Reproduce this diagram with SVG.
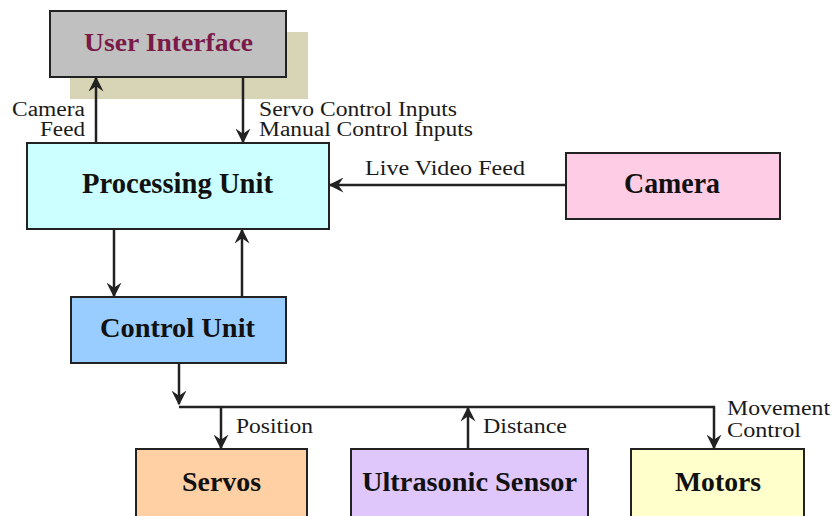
<svg xmlns="http://www.w3.org/2000/svg" width="832" height="516" viewBox="0 0 832 516">
<style>
.box{stroke:#222;stroke-width:2}
.t{font-family:"Liberation Serif","Times New Roman",serif;font-weight:bold;font-size:28px;fill:#111}
.l{font-family:"Liberation Serif","Times New Roman",serif;font-size:20px;fill:#1a1a1a}
.c{stroke:#222;stroke-width:2.5;fill:none}
</style>
<defs>
<marker id="a" viewBox="0 0 10 10" refX="9" refY="5" markerWidth="6" markerHeight="6" orient="auto" markerUnits="strokeWidth">
<path d="M0,0 L10,5 L0,10 L3.5,5 z" fill="#222"/>
</marker>
</defs>
<rect width="832" height="516" fill="#fff"/>
<g id="ui">
<rect x="70" y="32" width="238" height="67" fill="#d8d4b6"/>
<rect class="box" x="50" y="11" width="236" height="66" fill="#c0c0c0"/>
<text class="t" x="84" y="51" textLength="169" lengthAdjust="spacingAndGlyphs" style="fill:#7a1a48;font-size:26px">User Interface</text>
</g>
<g id="processing">
<rect class="box" x="27" y="143" width="302" height="86" fill="#ccffff"/>
<text class="t" x="82" y="193" textLength="191" lengthAdjust="spacingAndGlyphs" style="font-size:29px">Processing Unit</text>
</g>
<g id="camera">
<rect class="box" x="566" y="153" width="214" height="66" fill="#ffcce6"/>
<text class="t" x="624" y="193" textLength="96" lengthAdjust="spacingAndGlyphs" style="font-size:29px">Camera</text>
</g>
<g id="control">
<rect class="box" x="71" y="297" width="215" height="66" fill="#99ccff"/>
<text class="t" x="100" y="337" textLength="155" lengthAdjust="spacingAndGlyphs">Control Unit</text>
</g>
<g id="servos">
<rect class="box" x="136" y="449" width="171" height="70" fill="#ffd0a4"/>
<text class="t" x="182" y="491" textLength="79" lengthAdjust="spacingAndGlyphs">Servos</text>
</g>
<g id="ultrasonic">
<rect class="box" x="351" y="449" width="237" height="70" fill="#dfc6fb"/>
<text class="t" x="362" y="491" textLength="215" lengthAdjust="spacingAndGlyphs">Ultrasonic Sensor</text>
</g>
<g id="motors">
<rect class="box" x="631" y="449" width="173" height="70" fill="#ffffcc"/>
<text class="t" x="675" y="491" textLength="86" lengthAdjust="spacingAndGlyphs">Motors</text>
</g>
<g id="connectors">
<path class="c" d="M96,143 V78" marker-end="url(#a)"/>
<path class="c" d="M243,77 V142" marker-end="url(#a)"/>
<path class="c" d="M566,185 H330" marker-end="url(#a)"/>
<path class="c" d="M114,229 V296" marker-end="url(#a)"/>
<path class="c" d="M242,297 V230" marker-end="url(#a)"/>
<path class="c" d="M179,363 V404" marker-end="url(#a)"/>
<path class="c" d="M179,407 H714 V448" marker-end="url(#a)"/>
<path class="c" d="M221,407 V448" marker-end="url(#a)"/>
<path class="c" d="M468,449 V408" marker-end="url(#a)"/>
<text class="l" x="12" y="116" textLength="73" lengthAdjust="spacingAndGlyphs">Camera</text>
<text class="l" x="40" y="136" textLength="45" lengthAdjust="spacingAndGlyphs">Feed</text>
<text class="l" x="259" y="116" textLength="198" lengthAdjust="spacingAndGlyphs">Servo Control Inputs</text>
<text class="l" x="259" y="136" textLength="214" lengthAdjust="spacingAndGlyphs">Manual Control Inputs</text>
<text class="l" x="365" y="175" textLength="160" lengthAdjust="spacingAndGlyphs">Live Video Feed</text>
<text class="l" x="236" y="433" textLength="77" lengthAdjust="spacingAndGlyphs">Position</text>
<text class="l" x="483" y="433" textLength="84" lengthAdjust="spacingAndGlyphs">Distance</text>
<text class="l" x="727" y="415" textLength="103" lengthAdjust="spacingAndGlyphs">Movement</text>
<text class="l" x="727" y="437" textLength="74" lengthAdjust="spacingAndGlyphs">Control</text>
</g>
</svg>
